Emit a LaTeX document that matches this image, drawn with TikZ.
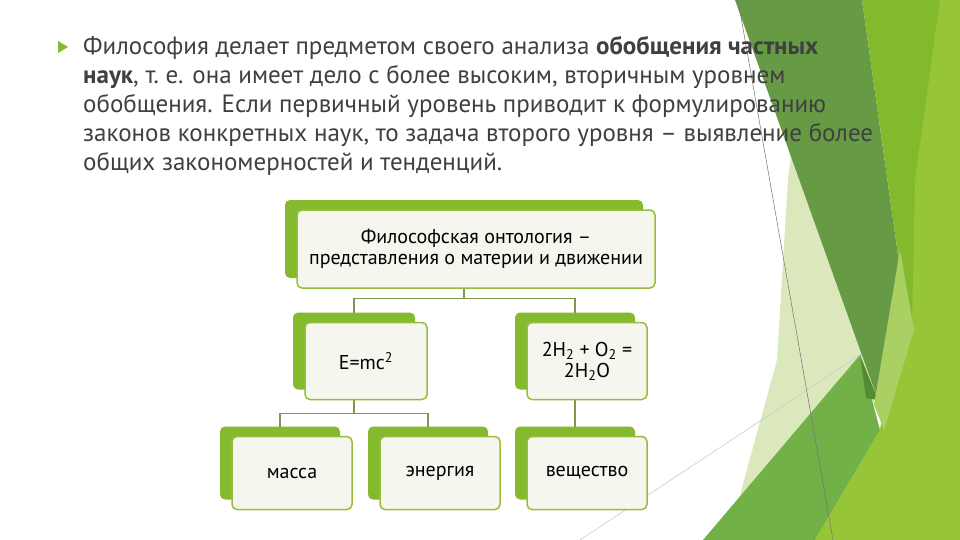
\documentclass[tikz,border=0pt]{standalone}
\usepackage{fontspec}
\setmainfont{PT Sans}
\usetikzlibrary{shadows,backgrounds}

\definecolor{darkleaf}{RGB}{103,154,68}
\definecolor{limeleaf}{RGB}{130,185,45}
\definecolor{brightleaf}{RGB}{150,198,55}
\definecolor{midleaf}{RGB}{114,176,72}
\definecolor{paleleaf}{RGB}{218,232,188}
\definecolor{softleaf}{RGB}{170,208,100}
\definecolor{deepleaf}{RGB}{82,140,50}
\definecolor{bodygray}{RGB}{64,64,64}
\definecolor{boxgreen}{RGB}{134,186,46}
\definecolor{boxline}{RGB}{150,190,60}
\definecolor{boxfill}{RGB}{245,246,238}
\definecolor{linkgreen}{RGB}{128,150,80}

\begin{document}
\begin{tikzpicture}[x=1pt,y=-1pt,
    box/.style={draw=boxline, fill=boxfill, line width=1.5pt, rounded corners=5pt,
        align=center, text=black, font=\fontsize{20}{21}\selectfont,
        general shadow={fill=boxgreen, shadow xshift=-12pt, shadow yshift=10pt}},
    link/.style={draw=linkgreen, line width=1.3pt}]
    \useasboundingbox (0,0) rectangle (960,540);

    % the green facets on the right
    \fill[paleleaf] (795,120) -- (788,180) -- (777,360) -- (740,495) -- (880,400) -- cycle;
    \draw[black!20, line width=0.6pt] (580,540) -- (960,289);
    \fill[darkleaf] (735,0) -- (862,0) -- (903,290) -- (878,400) -- cycle;
    \fill[midleaf] (703,540) -- (860,355) -- (880,430) -- (815,540) -- cycle;
    \fill[deepleaf] (860,355) -- (878,400) -- (866,398) -- cycle;
    \fill[limeleaf] (862,0) -- (960,0) -- (960,540) -- (815,540) -- (880,430) -- (903,290) -- cycle;
    \fill[brightleaf] (940,0) -- (960,0) -- (960,540) -- (815,540) -- (880,430) -- (912,330) -- (915,180) -- cycle;
    \fill[softleaf] (900,250) -- (914,330) -- (884,430) -- (874,405) -- cycle;
    \draw[black!55, line width=0.5pt] (738,0) -- (833,540);

    % the bullet and the text
    \fill[boxgreen] (58,41) -- (58,53) -- (68,47) -- cycle;
    \node[anchor=north west, inner sep=0pt, align=left, text=bodygray,
        font=\fontsize{25}{29}\selectfont] (intro) at (83,36)
        {Философия делает предметом своего анализа \textbf{обобщения частных}\\
         \textbf{наук}, т.~е. она имеет дело с более высоким, вторичным уровнем\\
         обобщения. Если первичный уровень приводит к формулированию\\
         законов конкретных наук, то задача второго уровня – выявление более\\
         общих закономерностей и тенденций.};

    % the boxes
    \node[box, minimum width=358pt, minimum height=78pt] (onto) at (476,249)
        {Философская онтология –\\представления о материи и движении};
    \node[box, minimum width=122pt, minimum height=77pt] (emc) at (366,361)
        {E=mc\textsuperscript{2}};
    \node[box, minimum width=120pt, minimum height=77pt] (water) at (587,361)
        {2H\textsubscript{2} + O\textsubscript{2} =\\2H\textsubscript{2}O};
    \node[box, minimum width=120pt, minimum height=73pt] (mass) at (292,473)
        {масса};
    \node[box, minimum width=120pt, minimum height=73pt] (energy) at (440,473)
        {энергия};
    \node[box, minimum width=120pt, minimum height=73pt] (subst) at (587,473)
        {вещество};

    % the connectors
    \begin{pgfonlayer}{background}
        \fill[white] (0,0) rectangle (960,540);
        \draw[link] ([xshift=-12pt]onto.south) -- ++(0,10) -| ([xshift=-12pt]emc.north);
        \draw[link] ([xshift=-12pt]onto.south) -- ++(0,10) -| ([xshift=-12pt]water.north);
        \draw[link] ([xshift=-12pt]emc.south) -- ++(0,13) -| ([xshift=-12pt]mass.north);
        \draw[link] ([xshift=-12pt]emc.south) -- ++(0,13) -| ([xshift=-12pt]energy.north);
        \draw[link] ([xshift=-12pt]water.south) -- ([xshift=-12pt]subst.north);
    \end{pgfonlayer}
\end{tikzpicture}
\end{document}
